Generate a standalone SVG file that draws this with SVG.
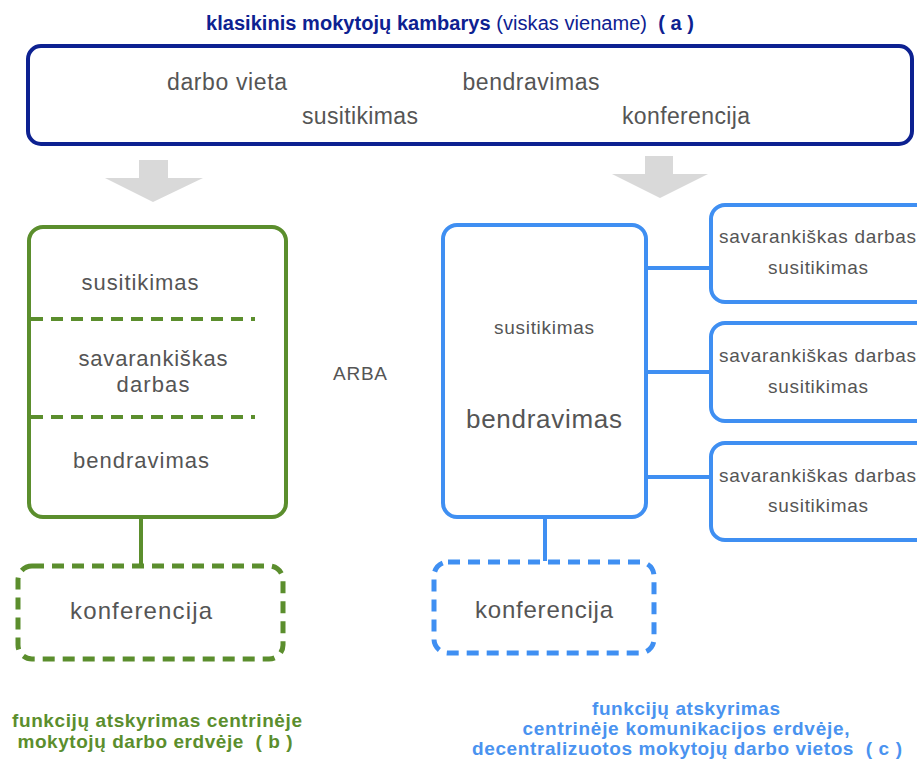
<svg xmlns="http://www.w3.org/2000/svg" width="917" height="763" viewBox="0 0 917 763">
<style>
  text { white-space: pre; }
  .t { font-family: "Liberation Sans", Arial, sans-serif; fill: #555555; }
  .navy { fill: #0d2191; font-family: "Liberation Sans", Arial, sans-serif; }
  .b { font-weight: bold; }
  .green { fill: #5b8e2d; font-family: "Liberation Sans", Arial, sans-serif; font-weight: bold; }
  .blue { fill: #4a93f0; font-family: "Liberation Sans", Arial, sans-serif; font-weight: bold; }
  .gbox { fill: #ffffff; stroke: #5b8e2d; stroke-width: 4; }
  .bbox { fill: #ffffff; stroke: #3f8ff2; stroke-width: 4; }
  .gdash { fill: none; stroke: #5b8e2d; stroke-width: 5; stroke-dasharray: 12 8; }
  .bdash { fill: none; stroke: #3f8ff2; stroke-width: 5; stroke-dasharray: 12 8; }
  .gline { stroke: #5b8e2d; stroke-width: 4; fill: none; }
  .bline { stroke: #3f8ff2; stroke-width: 4; fill: none; }
  .arrow { fill: #d9d9d9; }
</style>
<rect width="917" height="763" fill="#ffffff"/>

<g id="title">
  <text class="navy" x="450" y="30" font-size="20" text-anchor="middle" textLength="488" lengthAdjust="spacing"><tspan class="b">klasikinis mokytojų kambarys</tspan> (viskas viename)  <tspan class="b">( a )</tspan></text>
</g>

<g id="node-a">
  <rect x="28" y="46" width="884" height="98" rx="13" fill="#ffffff" stroke="#0d2191" stroke-width="4"/>
  <text class="t" x="227" y="90" font-size="23" text-anchor="middle" textLength="120" lengthAdjust="spacing">darbo vieta</text>
  <text class="t" x="531" y="90" font-size="23" text-anchor="middle" textLength="137" lengthAdjust="spacing">bendravimas</text>
  <text class="t" x="360" y="124" font-size="23" text-anchor="middle" textLength="116" lengthAdjust="spacing">susitikimas</text>
  <text class="t" x="686" y="124" font-size="23" text-anchor="middle" textLength="128" lengthAdjust="spacing">konferencija</text>
</g>

<g id="arrows">
  <polygon class="arrow" points="139,160 168,160 168,178 203,178 153,202 105,178 139,178"/>
  <polygon class="arrow" points="645,156 673,156 673,174 708,174 660,198 612,174 645,174"/>
</g>

<g id="connectors">
  <line class="gline" x1="141" y1="518" x2="141" y2="565"/>
  <line class="bline" x1="545" y1="517" x2="545" y2="561"/>
  <line class="bline" x1="646" y1="268" x2="711" y2="268"/>
  <line class="bline" x1="646" y1="372" x2="711" y2="372"/>
  <line class="bline" x1="646" y1="477" x2="711" y2="477"/>
</g>

<g id="node-b-main">
  <rect class="gbox" x="29" y="227" width="257" height="290" rx="14"/>
  <line x1="31" y1="319" x2="255" y2="319" stroke="#5b8e2d" stroke-width="4" stroke-dasharray="12 8"/>
  <line x1="31" y1="417" x2="255" y2="417" stroke="#5b8e2d" stroke-width="4" stroke-dasharray="12 8"/>
  <text class="t" x="140" y="290" font-size="22" text-anchor="middle" textLength="117" lengthAdjust="spacing">susitikimas</text>
  <text class="t" x="153" y="366" font-size="22" text-anchor="middle" textLength="149" lengthAdjust="spacing">savarankiškas</text>
  <text class="t" x="153" y="392" font-size="22" text-anchor="middle" textLength="73" lengthAdjust="spacing">darbas</text>
  <text class="t" x="141" y="468" font-size="22" text-anchor="middle" textLength="136" lengthAdjust="spacing">bendravimas</text>
</g>

<g id="node-b-conf">
  <rect class="gdash" x="18" y="566" width="265" height="93" rx="14"/>
  <text class="t" x="141" y="619" font-size="24" text-anchor="middle" textLength="142" lengthAdjust="spacing">konferencija</text>
</g>

<g id="arba">
  <text class="t" x="360" y="380" font-size="19" text-anchor="middle" textLength="54" lengthAdjust="spacing">ARBA</text>
</g>

<g id="node-c-main">
  <rect class="bbox" x="443" y="225" width="203" height="292" rx="14"/>
  <text class="t" x="544" y="334" font-size="19" text-anchor="middle" textLength="100" lengthAdjust="spacing">susitikimas</text>
  <text class="t" x="544" y="428" font-size="26" text-anchor="middle" textLength="156" lengthAdjust="spacing">bendravimas</text>
</g>

<g id="node-c-side1">
  <rect class="bbox" x="711" y="205" width="230" height="97" rx="14"/>
  <text class="t" x="719" y="243" font-size="19" textLength="197" lengthAdjust="spacing">savarankiškas darbas</text>
  <text class="t" x="818" y="274" font-size="19" text-anchor="middle" textLength="100" lengthAdjust="spacing">susitikimas</text>
</g>

<g id="node-c-side2">
  <rect class="bbox" x="711" y="323" width="230" height="98" rx="14"/>
  <text class="t" x="719" y="362" font-size="19" textLength="197" lengthAdjust="spacing">savarankiškas darbas</text>
  <text class="t" x="818" y="393" font-size="19" text-anchor="middle" textLength="100" lengthAdjust="spacing">susitikimas</text>
</g>

<g id="node-c-side3">
  <rect class="bbox" x="711" y="443" width="230" height="97" rx="14"/>
  <text class="t" x="719" y="482" font-size="19" textLength="197" lengthAdjust="spacing">savarankiškas darbas</text>
  <text class="t" x="818" y="512" font-size="19" text-anchor="middle" textLength="100" lengthAdjust="spacing">susitikimas</text>
</g>

<g id="node-c-conf">
  <rect class="bdash" x="434" y="562" width="220" height="91" rx="14"/>
  <text class="t" x="544" y="618" font-size="24" text-anchor="middle" textLength="138" lengthAdjust="spacing">konferencija</text>
</g>

<g id="caption-b">
  <text class="green" x="157" y="727" font-size="19" text-anchor="middle" textLength="290" lengthAdjust="spacing">funkcijų atskyrimas centrinėje</text>
  <text class="green" x="155" y="748" font-size="19" text-anchor="middle" textLength="275" lengthAdjust="spacing">mokytojų darbo erdvėje  ( b )</text>
</g>

<g id="caption-c">
  <text class="blue" x="686" y="715" font-size="19" text-anchor="middle" textLength="188" lengthAdjust="spacing">funkcijų atskyrimas</text>
  <text class="blue" x="686" y="735" font-size="19" text-anchor="middle" textLength="327" lengthAdjust="spacing">centrinėje komunikacijos erdvėje,</text>
  <text class="blue" x="687" y="755" font-size="19" text-anchor="middle" textLength="430" lengthAdjust="spacing">decentralizuotos mokytojų darbo vietos  ( c )</text>
</g>
</svg>
